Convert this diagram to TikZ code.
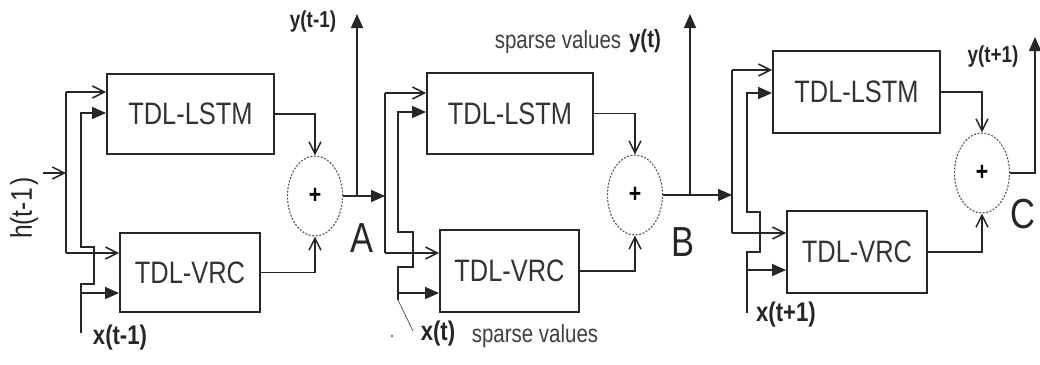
\documentclass[tikz,border=0pt]{standalone}
\usepackage{fontspec}
\setmainfont{Liberation Sans}[FakeStretch=0.82]
\usetikzlibrary{arrows.meta,shapes.geometric}
\begin{document}
\begin{tikzpicture}[x=1pt,y=-1pt,
  ln/.style={line width=1.5pt,draw=black!85},
  fa/.style={ln,-{Triangle[length=14pt,width=12pt]}},
  oa/.style={ln,-{Straight Barb[length=12pt,width=12pt,line width=1.5pt]}},
  blk/.style={draw=black!85,line width=1.9pt,inner sep=0pt,text=black!80,font=\fontsize{31}{31}\selectfont},
  sumnode/.style={ellipse,draw=black!65,dash pattern=on 2pt off 1.5pt,line width=1.1pt,minimum width=55pt,minimum height=80pt,inner sep=0pt,font=\bfseries\fontsize{26}{26}\selectfont},
  lab/.style={inner sep=0pt,text=black!85,font=\bfseries\fontsize{23}{23}\selectfont},
  xlab/.style={inner sep=0pt,text=black!85,font=\bfseries\fontsize{27}{27}\selectfont},
  big/.style={inner sep=0pt,text=black!85,font=\fontsize{42}{42}\selectfont},
  note/.style={inner sep=0pt,text=black!75,font=\fontsize{25}{25}\selectfont}]
\path[use as bounding box,fill=white] (0,0) rectangle (1040,364);

% ---------- block 1 ----------
\node[blk,minimum width=167pt,minimum height=80pt] (L1) at (190.5,114) {TDL-LSTM};
\node[blk,minimum width=140pt,minimum height=79pt] (V1) at (190,272.5) {TDL-VRC};
\node[sumnode] (S1) at (315,196) {+};
\coordinate (h1a) at (66,92);
\coordinate (h1j) at (66,173);
\coordinate (h1b) at (66,253);
\coordinate (hin) at (43,173);
\draw[ln] (h1a) -- (h1b);
\draw[oa] (hin) -- (h1j);
\draw[oa] (h1a) -- (L1.west |- h1a);
\draw[oa] (h1b) -- (V1.west |- h1b);
\coordinate (x1s) at (81,333);
\coordinate (x1t) at (81,113);
\coordinate (x1v) at (81,293);
\draw[fa] (x1s) -- (81,284) -- (94,284) -- (94,247) -- (81,247) -- (x1t) -- (L1.west |- x1t);
\draw[fa] (x1v) -- (V1.west |- x1v);
\draw[oa] (L1.east) -- (L1.east -| S1) -- (S1.north);
\draw[oa] (V1.east) -- (V1.east -| S1) -- (S1.south);
\coordinate (h2j) at (385,196);
\coordinate (y1) at (357,14);
\draw[fa] (S1.east) -- (h2j);
\draw[fa] (S1.east -| y1) -- (y1);
\node[lab] (ly1) at (313,22) {y(t-1)};
\node[big] (lA) at (362,238) {A};
\node[xlab] (lx1) at (120,338) {x(t-1)};
\node[rotate=90,inner sep=0pt,text=black!85,font=\fontsize{30}{30}\selectfont] (lh) at (24,208) {h(t-1\kern3pt)};

% ---------- block 2 ----------
\node[blk,minimum width=166pt,minimum height=81pt] (L2) at (510,113.5) {TDL-LSTM};
\node[blk,minimum width=139pt,minimum height=82pt] (V2) at (509.5,271) {TDL-VRC};
\node[sumnode] (S2) at (635,195) {+};
\coordinate (h2a) at (385,93);
\coordinate (h2b) at (385,253);
\draw[ln] (h2a) -- (h2b);
\draw[oa] (h2a) -- (L2.west |- h2a);
\draw[oa] (h2b) -- (V2.west |- h2b);
\coordinate (x2s) at (398,300);
\coordinate (x2t) at (398,112);
\coordinate (x2v) at (398,293);
\draw[fa] (x2s) -- (398,267) -- (413,267) -- (413,232) -- (398,232) -- (x2t) -- (L2.west |- x2t);
\draw[fa] (x2v) -- (V2.west |- x2v);
\coordinate (lead) at (413,331);
\draw[line width=0.7pt,black!70] (x2s) -- (lead);
\fill[black!70] (392,336) circle (1.2pt);
\draw[oa] (L2.east) -- (L2.east -| S2) -- (S2.north);
\draw[oa] (V2.east) -- (V2.east -| S2) -- (S2.south);
\coordinate (h3j) at (732,195);
\coordinate (y2) at (690,14);
\draw[fa] (S2.east) -- (h3j);
\draw[fa] (S2.east -| y2) -- (y2);
\node[note] (sv1) at (558,42) {sparse values};
\node[lab,font=\bfseries\fontsize{25}{25}\selectfont] (ly2) at (645,41) {y(t)};
\node[big] (lB) at (683,242) {B};
\node[xlab] (lx2) at (438,334) {x(t)};
\node[note] (sv2) at (535,336) {sparse values};

% ---------- block 3 ----------
\node[blk,minimum width=167pt,minimum height=82pt] (L3) at (856.5,92) {TDL-LSTM};
\node[blk,minimum width=140pt,minimum height=82pt] (V3) at (857,252) {TDL-VRC};
\node[sumnode] (S3) at (982,173) {+};
\coordinate (h3a) at (732,70);
\coordinate (h3b) at (732,233);
\draw[ln] (h3a) -- (h3b);
\draw[oa] (h3a) -- (L3.west |- h3a);
\draw[oa] (h3b) -- (V3.west |- h3b);
\coordinate (x3s) at (747,313);
\coordinate (x3t) at (747,93);
\coordinate (x3v) at (747,270);
\draw[fa] (x3s) -- (747,252) -- (760,252) -- (760,212) -- (747,212) -- (x3t) -- (L3.west |- x3t);
\draw[fa] (x3v) -- (V3.west |- x3v);
\draw[oa] (L3.east) -- (L3.east -| S3) -- (S3.north);
\draw[oa] (V3.east) -- (V3.east -| S3) -- (S3.south);
\coordinate (y3c) at (1035,173);
\coordinate (y3) at (1035,37);
\draw[fa] (S3.east) -- (y3c) -- (y3);
\node[lab] (ly3) at (993,57) {y(t+1)};
\node[big] (lC) at (1023,214) {C};
\node[xlab] (lx3) at (786,315) {x(t+1)};
\end{tikzpicture}
\end{document}
